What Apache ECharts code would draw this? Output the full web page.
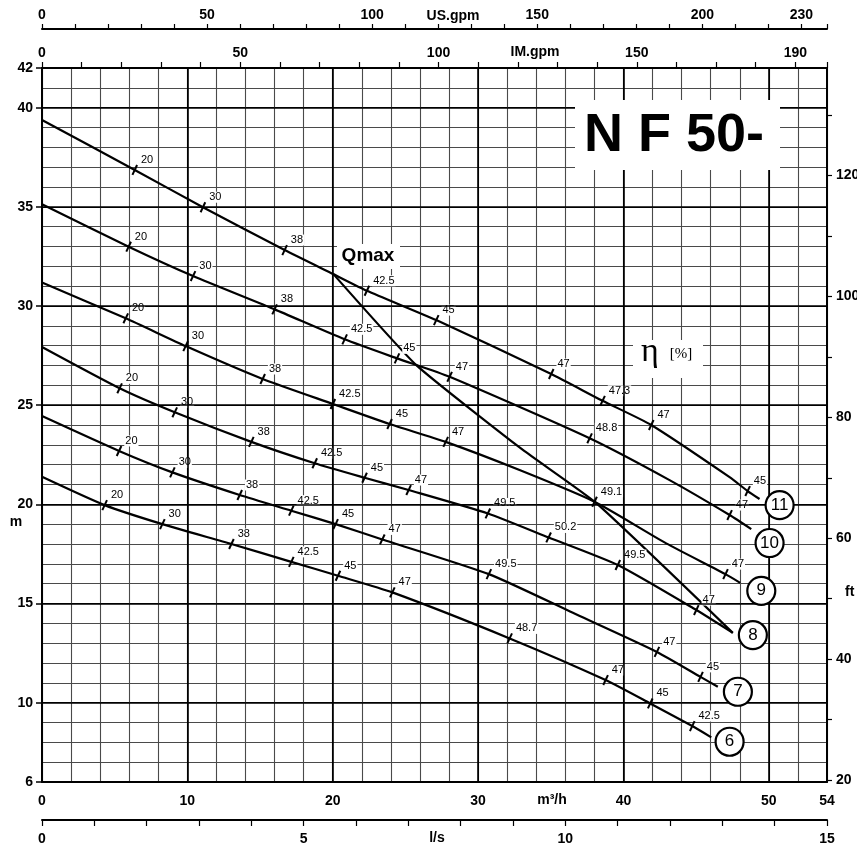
<!DOCTYPE html>
<html>
<head>
<meta charset="utf-8">
<title>N F 50 curves</title>
<script src="https://cdn.jsdelivr.net/npm/echarts@6/dist/echarts.min.js"></script>
<style>
  html, body { margin: 0; padding: 0; background: #fff; }
  #main { width: 857px; height: 848px; }
</style>
</head>
<body>
<div id="main"></div>
<script>
// Q in m3/h, H in m
var curve11 = [[0, 39.38], [6.38, 36.86], [11.07, 34.98], [16.69, 32.82], [20.06, 31.60], [22.35, 30.77], [27.12, 29.29], [35.03, 26.57], [38.56, 25.22], [41.91, 24.0], [47.30, 21.37], [48.54, 20.67], [49.36, 20.27]];
var curve10 = [[0, 35.13], [5.96, 32.99], [10.39, 31.51], [16.0, 29.83], [20.82, 28.32], [24.42, 27.36], [28.04, 26.43], [37.67, 23.33], [43.17, 21.22], [47.30, 19.46], [48.79, 18.75]];
var curve9 = [[0, 31.18], [5.76, 29.38], [9.88, 27.98], [15.18, 26.32], [20.01, 25.06], [23.91, 24.05], [27.77, 23.15], [32.85, 21.73], [38.01, 20.13], [42.94, 18.03], [47.02, 16.48], [48.03, 16.04]];
var curve8 = [[0, 27.93], [5.34, 25.85], [9.13, 24.64], [14.40, 23.15], [18.76, 22.07], [22.19, 21.34], [25.22, 20.72], [30.67, 19.54], [34.85, 18.33], [39.61, 16.94], [45.01, 14.67], [47.52, 13.52]];
var curve7 = [[0, 24.45], [5.30, 22.69], [8.97, 21.61], [13.60, 20.47], [17.15, 19.68], [20.20, 19.0], [23.41, 18.23], [30.74, 16.48], [36.52, 14.53], [42.30, 12.56], [45.30, 11.30], [46.49, 10.80]];
var curve6 = [[0, 21.39], [4.31, 19.96], [8.28, 19.0], [13.03, 18.0], [17.15, 17.10], [20.36, 16.40], [24.10, 15.56], [32.17, 13.24], [38.77, 11.14], [41.84, 9.96], [44.73, 8.82], [46.04, 8.25]];
var qmaxLine = [[20.03, 31.62], [25.75, 27.02], [33.08, 22.74], [38.13, 20.06], [47.52, 13.52]];

// efficiency marks: [Q, H, eta %]
var eff11 = [[6.38, 36.86, '20'], [11.07, 34.98, '30'], [16.69, 32.82, '38'], [22.35, 30.77, '42.5'], [27.12, 29.29, '45'], [35.03, 26.57, '47'], [38.56, 25.22, '47.3'], [41.91, 24.0, '47'], [48.54, 20.67, '45']];
var eff10 = [[5.96, 32.99, '20'], [10.39, 31.51, '30'], [16.0, 29.83, '38'], [20.82, 28.32, '42.5'], [24.42, 27.36, '45'], [28.04, 26.43, '47'], [37.67, 23.33, '48.8'], [47.30, 19.46, '47']];
var eff9 = [[5.76, 29.38, '20'], [9.88, 27.98, '30'], [15.18, 26.32, '38'], [20.01, 25.06, '42.5'], [23.91, 24.05, '45'], [27.77, 23.15, '47'], [38.01, 20.13, '49.1'], [47.02, 16.48, '47']];
var eff8 = [[5.34, 25.85, '20'], [9.13, 24.64, '30'], [14.40, 23.15, '38'], [18.76, 22.07, '42.5'], [22.19, 21.34, '45'], [25.22, 20.72, '47'], [30.67, 19.54, '49.5'], [34.85, 18.33, '50.2'], [39.61, 16.94, '49.5'], [45.01, 14.67, '47']];
var eff7 = [[5.30, 22.69, '20'], [8.97, 21.61, '30'], [13.60, 20.47, '38'], [17.15, 19.68, '42.5'], [20.20, 19.0, '45'], [23.41, 18.23, '47'], [30.74, 16.48, '49.5'], [42.30, 12.56, '47'], [45.30, 11.30, '45']];
var eff6 = [[4.31, 19.96, '20'], [8.28, 19.0, '30'], [13.03, 18.0, '38'], [17.15, 17.10, '42.5'], [20.36, 16.40, '45'], [24.10, 15.56, '47'], [32.17, 13.24, '48.7'], [38.77, 11.14, '47'], [41.84, 9.96, '45'], [44.73, 8.82, '42.5']];

var curveNames = ['11', '10', '9', '8', '7', '6'];
var curveTags = [[50.74, 19.96], [50.05, 18.05], [49.48, 15.64], [48.90, 13.41], [47.87, 10.55], [47.30, 8.03]];

var qLabels = [0, 10, 20, 30, 40, 50, 54];
var hLabels = [6, 10, 15, 20, 25, 30, 35, 40, 42];
var usLabels = [0, 50, 100, 150, 200, 230];
var imLabels = [0, 50, 100, 150, 190];
var lsLabels = [0, 5, 10, 15];
var ftLabels = [20, 40, 60, 80, 100, 120];
var ftTicks = [20, 30, 40, 50, 60, 70, 80, 90, 100, 110, 120, 130];
var hTicks = [6, 10, 15, 20, 25, 30, 35, 40, 42];
var majorQ = [10, 20, 30, 40, 50];
var majorH = [10, 15, 20, 25, 30, 35, 40];

var Q_MAX = 54, H_MIN = 6, H_MAX = 42;
var TO_USGPM = 4.40287, TO_IMGPM = 3.66615, TO_LS = 1 / 3.6, TO_FT = 3.28084;
var FONT = '"Liberation Sans", Arial, sans-serif';

var chart = echarts.init(document.getElementById('main'));

var only = function (list) {
    return function (v) {
        return list.indexOf(Math.round(v * 1000) / 1000) >= 0 ? String(Math.round(v)) : '';
    };
};

var boldLabel = function (list, margin) {
    return { formatter: only(list), margin: margin, color: '#000', fontFamily: FONT, fontWeight: 'bold', fontSize: 14 };
};

var curves = [curve11, curve10, curve9, curve8, curve7, curve6];
var effs = [eff11, eff10, eff9, eff8, eff7, eff6];

var series = [];

// heavier grid lines every 10 m3/h and 5 m
var majorLines = [];
majorQ.forEach(function (q) { majorLines.push({ xAxis: q }); });
majorH.forEach(function (h) { majorLines.push({ yAxis: h }); });
series.push({
    type: 'line',
    data: [],
    silent: true,
    z: 1,
    markLine: {
        silent: true,
        symbol: 'none',
        label: { show: false },
        lineStyle: { color: '#000', width: 1.6, type: 'solid' },
        data: majorLines
    }
});

curves.forEach(function (c, i) {
    series.push({
        type: 'line',
        data: c,
        smooth: 0.2,
        showSymbol: false,
        silent: true,
        z: 3,
        lineStyle: { color: '#000', width: 2.2 }
    });
    series.push({
        type: 'scatter',
        data: effs[i],
        symbol: 'rect',
        symbolSize: [2, 11],
        symbolRotate: -25,
        silent: true,
        z: 4,
        itemStyle: { color: '#000', opacity: 1 },
        label: {
            show: true,
            position: 'right',
            distance: 2,
            offset: [0, -10],
            formatter: function (p) { return p.value[2]; },
            color: '#000',
            fontFamily: FONT,
            fontSize: 11,
            backgroundColor: '#fff',
            padding: [0, 1, 0, 1]
        }
    });
});

series.push({
    type: 'line',
    data: qmaxLine,
    smooth: 0.15,
    showSymbol: false,
    silent: true,
    z: 3,
    lineStyle: { color: '#000', width: 2.2 }
});

series.push({
    type: 'scatter',
    data: curveTags.map(function (p, i) { return [p[0], p[1], curveNames[i]]; }),
    symbol: 'circle',
    symbolSize: 28,
    silent: true,
    z: 6,
    itemStyle: { color: '#fff', borderColor: '#000', borderWidth: 2.2, opacity: 1 },
    label: {
        show: true,
        position: 'inside',
        formatter: function (p) { return p.value[2]; },
        color: '#000',
        fontFamily: FONT,
        fontSize: 17
    }
});

chart.setOption({
    animation: false,
    backgroundColor: '#fff',
    grid: { left: 42, right: 30, top: 68, bottom: 66, outerBoundsMode: 'none', containLabel: false },
    xAxis: [{
        type: 'value', position: 'bottom', min: 0, max: Q_MAX, interval: 2,
        axisLine: { lineStyle: { color: '#000', width: 2 } },
        axisTick: { show: false },
        axisLabel: boldLabel(qLabels, 12),
        splitLine: { show: true, lineStyle: { color: ['#000', '#4a4a4a', '#4a4a4a', '#4a4a4a', '#4a4a4a'], width: 1.1 } }
    }, {
        // US gallons per minute
        type: 'value', position: 'top', offset: 39, min: 0, max: Q_MAX * TO_USGPM, interval: 10,
        axisLine: { onZero: false, lineStyle: { color: '#000', width: 2 } },
        axisTick: { show: true, length: 5, lineStyle: { color: '#000', width: 1.2 } },
        axisLabel: boldLabel(usLabels, 7),
        splitLine: { show: false }
    }, {
        // imperial gallons per minute
        type: 'value', position: 'top', offset: 0, min: 0, max: Q_MAX * TO_IMGPM, interval: 10,
        axisLine: { onZero: false, lineStyle: { color: '#000', width: 2 } },
        axisTick: { show: true, length: 6, lineStyle: { color: '#000', width: 1.2 } },
        axisLabel: boldLabel(imLabels, 8),
        splitLine: { show: false }
    }, {
        // litres per second
        type: 'value', position: 'bottom', offset: 38, min: 0, max: Q_MAX * TO_LS, interval: 1,
        axisLine: { onZero: false, lineStyle: { color: '#000', width: 2 } },
        axisTick: { show: true, length: 6, lineStyle: { color: '#000', width: 1.2 } },
        axisLabel: boldLabel(lsLabels, 12),
        splitLine: { show: false }
    }],
    yAxis: [{
        type: 'value', position: 'left', min: H_MIN, max: H_MAX, interval: 1,
        axisLine: { onZero: false, lineStyle: { color: '#000', width: 2 } },
        axisTick: { show: false },
        axisLabel: boldLabel(hLabels, 9),
        splitLine: { show: true, lineStyle: { color: ['#4a4a4a', '#4a4a4a', '#4a4a4a', '#4a4a4a', '#000'], width: 1.1 } }
    }, {
        type: 'value', position: 'left', min: H_MIN, max: H_MAX,
        axisLine: { show: false },
        axisTick: { show: true, length: 6, customValues: hTicks, lineStyle: { color: '#000', width: 1.5 } },
        axisLabel: { show: false },
        splitLine: { show: false }
    }, {
        // feet
        type: 'value', position: 'right', min: H_MIN * TO_FT, max: H_MAX * TO_FT,
        axisLine: { onZero: false, lineStyle: { color: '#000', width: 2 } },
        axisTick: { show: true, length: 5, customValues: ftTicks, lineStyle: { color: '#000', width: 1.2 } },
        axisLabel: { customValues: ftLabels, margin: 9, color: '#000', fontFamily: FONT, fontWeight: 'bold', fontSize: 14 },
        splitLine: { show: false }
    }],
    series: series,
    graphic: [
        { type: 'text', z: 100, style: { x: 453, y: 16, text: 'US.gpm', fill: '#000', font: 'bold 14px ' + FONT, textAlign: 'center', textVerticalAlign: 'middle' } },
        { type: 'text', z: 100, style: { x: 535, y: 52, text: 'IM.gpm', fill: '#000', font: 'bold 14px ' + FONT, textAlign: 'center', textVerticalAlign: 'middle' } },
        { type: 'text', z: 100, style: { x: 552, y: 800, text: 'm³/h', fill: '#000', font: 'bold 14px ' + FONT, textAlign: 'center', textVerticalAlign: 'middle' } },
        { type: 'text', z: 100, style: { x: 437, y: 838, text: 'l/s', fill: '#000', font: 'bold 14px ' + FONT, textAlign: 'center', textVerticalAlign: 'middle' } },
        { type: 'text', z: 100, style: { x: 16, y: 522, text: 'm', fill: '#000', font: 'bold 14px ' + FONT, textAlign: 'center', textVerticalAlign: 'middle' } },
        { type: 'text', z: 100, style: { x: 845, y: 592, text: 'ft', fill: '#000', font: 'bold 14px ' + FONT, textAlign: 'left', textVerticalAlign: 'middle' } },
        { type: 'rect', z: 100, shape: { x: 575, y: 100, width: 205, height: 70 }, style: { fill: '#fff' } },
        { type: 'text', z: 101, style: { x: 674, y: 136, text: 'N F 50-', fill: '#000', font: 'bold 54px ' + FONT, textAlign: 'center', textVerticalAlign: 'middle' } },
        { type: 'rect', z: 100, shape: { x: 337, y: 244, width: 63, height: 25 }, style: { fill: '#fff' } },
        { type: 'text', z: 101, style: { x: 368, y: 256, text: 'Qmax', fill: '#000', font: 'bold 19px ' + FONT, textAlign: 'center', textVerticalAlign: 'middle' } },
        { type: 'rect', z: 100, shape: { x: 633, y: 340, width: 70, height: 38 }, style: { fill: '#fff' } },
        { type: 'text', z: 101, style: { x: 650, y: 352, text: 'η', fill: '#000', font: '34px "Liberation Serif", "DejaVu Serif", serif', textAlign: 'center', textVerticalAlign: 'middle' } },
        { type: 'text', z: 101, style: { x: 681, y: 354, text: '[%]', fill: '#000', font: '15px "Liberation Serif", "DejaVu Serif", serif', textAlign: 'center', textVerticalAlign: 'middle' } }
    ]
});
</script>
</body>
</html>
